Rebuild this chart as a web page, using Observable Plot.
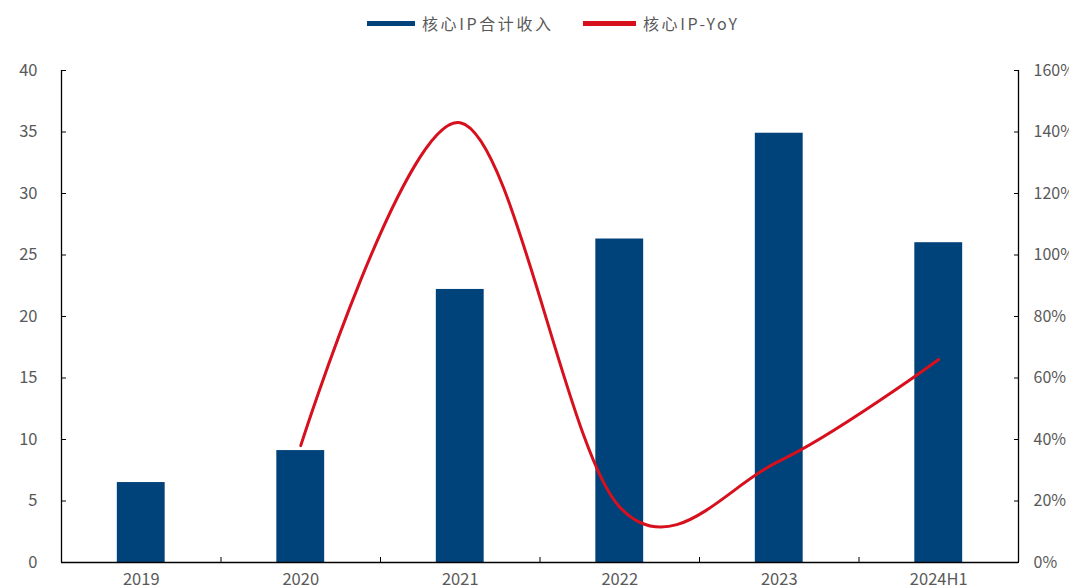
<!DOCTYPE html>
<html>
<head>
<meta charset="utf-8">
<script src="https://cdn.jsdelivr.net/npm/d3@7"></script>
<script src="https://cdn.jsdelivr.net/npm/@observablehq/plot@0.6"></script>
<style>
  html, body { margin: 0; padding: 0; background: #fff; overflow: hidden; }
  #wrap { position: relative; width: 1069px; height: 588px; font-family: "Noto Sans CJK SC", "Noto Sans", sans-serif; }
  #legend { position: relative; height: 45px; color: #595959; font-size: 16px; letter-spacing: 2.6px; }
  .item { position: absolute; top: 11px; display: flex; align-items: center; white-space: nowrap; }
  .sw { display: inline-block; height: 5px; margin-right: 7px; }
</style>
</head>
<body>
<div id="wrap">
  <div id="legend"></div>
  <div id="chart"></div>
</div>
<script>
// Core IP revenue (left axis) and its year-on-year growth (right axis)
const categories = ["2019", "2020", "2021", "2022", "2023", "2024H1"];
const revenue = [6.5, 9.1, 22.2, 26.3, 34.9, 26.0];
const yoy = [null, 38, 143, 18, 33, 66];           // percent
const leftTicks = [0, 5, 10, 15, 20, 25, 30, 35, 40];
const rightTicks = [0, 20, 40, 60, 80, 100, 120, 140, 160];
const seriesNames = ["核心IP合计收入", "核心IP-YoY"];

const barColor = "#00427A";
const lineColor = "#D7101E";
const textColor = "#595959";

// right axis maps 0–160% onto the left axis 0–40
const pctToLeft = 40 / 160;

const rows = categories.map((c, i) => ({i, c, revenue: revenue[i], yoy: yoy[i]}));
const yoyRows = rows.filter(d => d.yoy != null);

// legend
const legend = document.getElementById("legend");
[[seriesNames[0], barColor, 367, 48], [seriesNames[1], lineColor, 583, 53]].forEach(([name, color, left, w]) => {
  const el = document.createElement("div");
  el.className = "item";
  el.style.left = left + "px";
  el.innerHTML = `<span class="sw" style="width:${w}px;background:${color}"></span><span>${name}</span>`;
  legend.appendChild(el);
});

const chart = Plot.plot({
  width: 1069,
  height: 543,
  marginTop: 25,
  marginBottom: 26,
  marginLeft: 61,
  marginRight: 51,
  style: {fontFamily: "'Noto Sans CJK SC', 'Noto Sans', sans-serif", fontSize: "16px", color: textColor, background: "white"},
  x: {type: "linear", domain: [-0.5, categories.length - 0.5], axis: null},
  y: {domain: [0, 40], axis: null},
  marks: [
    // bars
    Plot.rectY(rows, {x1: d => d.i - 0.15, x2: d => d.i + 0.15, y1: 0, y2: "revenue", fill: barColor}),
    // smoothed growth line
    Plot.line(yoyRows, {x: "i", y: d => d.yoy * pctToLeft, curve: "cardinal", tension: 0, stroke: lineColor, strokeWidth: 3}),
    // axis lines
    Plot.ruleX([-0.5, categories.length - 0.5], {stroke: "#000", strokeWidth: 1.3}),
    Plot.ruleY([0], {stroke: "#000", strokeWidth: 1.3}),
    // left axis
    Plot.axisY({anchor: "left", label: null, ticks: leftTicks, tickSize: -5, tickPadding: 29, stroke: "#000", fill: textColor, fontSize: 16.5}),
    // right axis
    Plot.axisY({anchor: "right", label: null, ticks: rightTicks.map(p => p * pctToLeft), tickFormat: d => Math.round(d / pctToLeft) + "%", tickSize: -5, tickPadding: 20, stroke: "#000", fill: textColor, fontSize: 16}),
    // category labels
    Plot.axisX({anchor: "bottom", label: null, ticks: d3.range(categories.length), tickFormat: i => categories[i], tickSize: 0, tickPadding: 11, fill: textColor, fontSize: 16.5}),
    // dividers between categories
    Plot.axisX({anchor: "bottom", label: null, ticks: d3.range(categories.length - 1).map(i => i + 0.5), text: null, tickSize: -5, stroke: "#000"})
  ]
});
document.getElementById("chart").appendChild(chart);
</script>
</body>
</html>
